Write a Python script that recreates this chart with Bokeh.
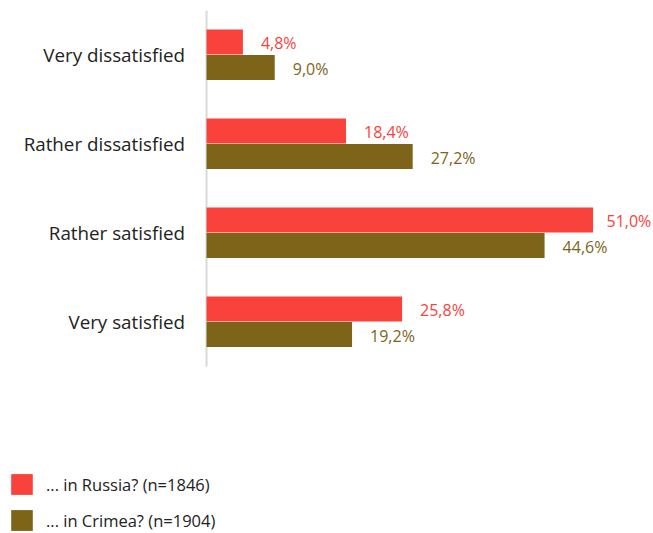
from bokeh.plotting import figure
from bokeh.models import ColumnDataSource, Legend, LegendItem, Range1d
from bokeh.transform import dodge
from bokeh.embed import file_html
from bokeh.resources import INLINE
from bokeh.core.properties import value

categories = ["Very dissatisfied", "Rather dissatisfied", "Rather satisfied", "Very satisfied"]
russia = [4.8, 18.4, 51.0, 25.8]
crimea = [9.0, 27.2, 44.6, 19.2]
series_names = ["... in Russia? (n=1846)", "... in Crimea? (n=1904)"]
colors = ["#f9423b", "#7d6419"]

def fmt(v):
    return f"{v:.1f}".replace(".", ",") + "%"

W, H = 653, 533
X0, X1 = -27.18, 58.97
px_per_unit = W / (X1 - X0)
LABEL_W = 45  # approx. width of a value label in px
PAD = 18

def label_offset(v):
    # keep the label inside the plot (like a justified data label)
    end_px = (v - X0) * px_per_unit
    return min(PAD, W - 2 - LABEL_W - end_px)

pos = list(range(len(categories)))
src = ColumnDataSource(dict(
    pos=pos,
    cat=categories,
    russia=russia,
    crimea=crimea,
    rlab=[fmt(v) for v in russia],
    clab=[fmt(v) for v in crimea],
    roff=[label_offset(v) for v in russia],
    coff=[label_offset(v) for v in crimea],
))

p = figure(width=W, height=H, output_backend="svg", toolbar_location=None,
           x_axis_type=None, y_axis_type=None,
           x_range=Range1d(X0, X1), y_range=Range1d(5.376, -0.612))
p.min_border = 0
p.min_border_left = 0
p.min_border_right = 0
p.min_border_top = 0
p.min_border_bottom = 0
p.outline_line_color = None
p.xgrid.visible = False
p.ygrid.visible = False

# category axis line
p.segment(x0=0, y0=-0.5, x1=0, y1=len(categories) - 0.5,
          line_color="#d9d9d9", line_width=2)

h = 0.281
r1 = p.hbar(y=dodge("pos", -0.146), right="russia", left=0, height=h,
            source=src, color=colors[0], line_color=None)
r2 = p.hbar(y=dodge("pos", 0.14), right="crimea", left=0, height=h,
            source=src, color=colors[1], line_color=None)

# category labels
p.text(x=0, y="pos", text="cat", source=src, x_offset=-21.5,
       text_align="right", text_baseline="middle", text_font=value("Open Sans"),
       text_font_size="18.8px", text_color="#222222")

p.text(x="russia", y=dodge("pos", -0.13), text="rlab", source=src,
       x_offset="roff", text_baseline="middle", text_font=value("Open Sans"),
       text_font_size="16px", text_color=colors[0])
p.text(x="crimea", y=dodge("pos", 0.16), text="clab", source=src,
       x_offset="coff", text_baseline="middle", text_font=value("Open Sans"),
       text_font_size="16px", text_color=colors[1])

legend = Legend(items=[LegendItem(label=series_names[0], renderers=[r1]),
                       LegendItem(label=series_names[1], renderers=[r2])],
                location=(8, 0), orientation="vertical")
legend.glyph_width = 27
legend.glyph_height = 26
legend.label_text_font = "Open Sans"
legend.label_text_font_size = "16.5px"
legend.label_text_color = "#222222"
legend.spacing = 10
legend.padding = 0
legend.margin = 0
legend.label_standoff = 11
legend.border_line_color = None
legend.background_fill_alpha = 0
p.add_layout(legend, "center")

open("out.html", "w").write(file_html(p, INLINE))
